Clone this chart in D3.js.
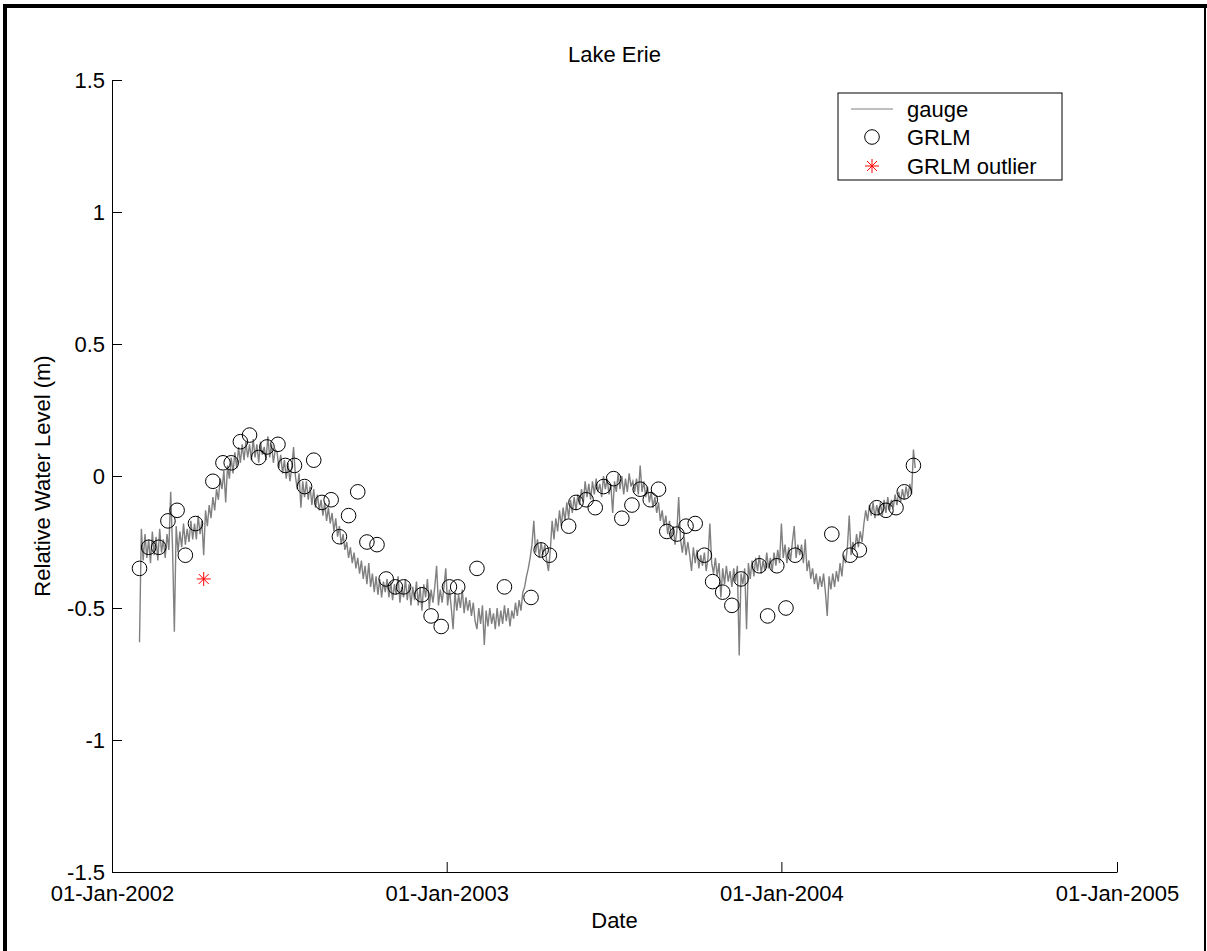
<!DOCTYPE html>
<html lang="en">
<head>
    <meta charset="UTF-8">
    <title>Lake Erie</title>
    <style>
        body { margin: 0; background: #fff; }
        svg { display: block; }
        text { font-family: "Liberation Sans", Arial, sans-serif; fill: #000; }
    </style>
</head>
<body>
    <div id="chart"></div>
    <script src="https://d3js.org/d3.v7.min.js"></script>
    <script>
        // gauge record: one reading every 2 days from gaugeStart
        const gaugeStart = "2002-01-31";
        const gaugeStepDays = 2;
        const gaugeLevels = [
            -0.63, -0.20, -0.32, -0.22, -0.31, -0.24, -0.33, -0.21, -0.30, -0.23, -0.32, -0.20, -0.29, -0.24, -0.31,
            -0.22, -0.28, -0.06, -0.27, -0.59, -0.19, -0.29, -0.21, -0.27, -0.18, -0.26, -0.20, -0.25, -0.17, -0.24,
            -0.18, -0.24, -0.15, -0.22, -0.17, -0.30, -0.13, -0.19, -0.11, -0.16, -0.08, -0.13, -0.05, -0.09, -0.01,
            -0.05,  0.02, -0.10,  0.04, -0.01,  0.07,  0.01,  0.09,  0.03,  0.11,  0.05,  0.12,  0.06,  0.13,  0.07,
             0.12,  0.06,  0.14,  0.07,  0.12,  0.05,  0.13,  0.08,  0.11,  0.06,  0.15,  0.07,  0.12,  0.05,  0.10,
             0.09,  0.03,  0.08,  0.01,  0.06, -0.01,  0.05, -0.02,  0.03,  0.11,  0.00, -0.05,  0.01, -0.12, -0.02,
            -0.08, -0.02, -0.09, -0.04, -0.11, -0.05, -0.12, -0.07, -0.13, -0.09, -0.15, -0.10, -0.17, -0.12, -0.18,
            -0.14, -0.21, -0.16, -0.23, -0.19, -0.26, -0.22, -0.28, -0.25, -0.31, -0.27, -0.33, -0.29, -0.35, -0.31,
            -0.37, -0.32, -0.39, -0.34, -0.41, -0.33, -0.42, -0.37, -0.44, -0.38, -0.45, -0.39, -0.46, -0.40, -0.44,
            -0.39, -0.46, -0.40, -0.47, -0.41, -0.45, -0.38, -0.48, -0.42, -0.46, -0.39, -0.47, -0.41, -0.49, -0.42,
            -0.47, -0.40, -0.49, -0.42, -0.51, -0.41, -0.46, -0.39, -0.50, -0.43, -0.48, -0.42, -0.34, -0.49, -0.43,
            -0.48, -0.42, -0.35, -0.49, -0.43, -0.50, -0.58, -0.44, -0.51, -0.45, -0.50, -0.43, -0.52, -0.46, -0.51,
            -0.47, -0.53, -0.48, -0.55, -0.58, -0.50, -0.56, -0.49, -0.64, -0.51, -0.57, -0.50, -0.56, -0.52, -0.58,
            -0.50, -0.57, -0.51, -0.56, -0.49, -0.55, -0.50, -0.57, -0.51, -0.54, -0.48, -0.53, -0.47, -0.51, -0.44,
            -0.42, -0.38, -0.35, -0.31, -0.26, -0.17, -0.29, -0.24, -0.31, -0.25, -0.30, -0.26, -0.32, -0.36, -0.28,
            -0.17, -0.24, -0.16, -0.21, -0.13, -0.19, -0.12, -0.17, -0.10, -0.16, -0.09, -0.14, -0.08, -0.13, -0.07,
            -0.11, -0.05, -0.10, -0.02, -0.08, -0.03, -0.09, -0.02, -0.07, -0.01, -0.06, -0.03, -0.08,  0.00, -0.05,
            -0.01, -0.07, -0.03, -0.14, -0.02, -0.06,  0.01, -0.05,  0.00, -0.07, -0.01, -0.06,  0.01, -0.04, -0.02,
            -0.06, -0.01, -0.07,  0.04, -0.06, -0.02, -0.08, -0.04, -0.10, -0.06, -0.12, -0.08, -0.14, -0.10, -0.17,
            -0.13, -0.19, -0.15, -0.22, -0.17, -0.24, -0.19, -0.26, -0.21, -0.08, -0.24, -0.29, -0.23, -0.30, -0.25,
            -0.30, -0.36, -0.27, -0.33, -0.28, -0.35, -0.30, -0.34, -0.29, -0.36, -0.31, -0.18, -0.33, -0.37, -0.31,
            -0.38, -0.33, -0.46, -0.35, -0.41, -0.34, -0.40, -0.36, -0.42, -0.35, -0.40, -0.34, -0.68, -0.37, -0.41,
            -0.35, -0.58, -0.33, -0.39, -0.32, -0.38, -0.31, -0.36, -0.30, -0.37, -0.32, -0.36, -0.29, -0.35, -0.31,
            -0.36, -0.29, -0.34, -0.28, -0.33, -0.18, -0.31, -0.26, -0.33, -0.27, -0.32, -0.25, -0.19, -0.31, -0.26,
            -0.30, -0.26, -0.33, -0.24, -0.36, -0.32, -0.39, -0.35, -0.41, -0.37, -0.43, -0.38, -0.42, -0.37, -0.44,
            -0.53, -0.38, -0.43, -0.37, -0.42, -0.36, -0.40, -0.33, -0.38, -0.30, -0.33, -0.27, -0.15, -0.30, -0.25,
            -0.28, -0.22, -0.27, -0.21, -0.25, -0.18, -0.13, -0.17, -0.11, -0.15, -0.10, -0.16, -0.11, -0.15, -0.10,
            -0.15, -0.09, -0.14, -0.08, -0.13, -0.09, -0.12, -0.07, -0.11, -0.06, -0.10, -0.05, -0.09, -0.04, -0.08,
            -0.03, -0.07,  0.10,  0.03
        ];

        const grlmDates = [
            "2002-01-31", "2002-02-10", "2002-02-21", "2002-03-03", "2002-03-13", "2002-03-22",
            "2002-04-02", "2002-04-21", "2002-05-02", "2002-05-11", "2002-05-21", "2002-05-31",
            "2002-06-10", "2002-06-19", "2002-07-01", "2002-07-09", "2002-07-19", "2002-07-30",
            "2002-08-09", "2002-08-18", "2002-08-28", "2002-09-06", "2002-09-16", "2002-09-26",
            "2002-10-06", "2002-10-17", "2002-10-27", "2002-11-06", "2002-11-15", "2002-12-05",
            "2002-12-15", "2002-12-26", "2003-01-04", "2003-01-13", "2003-02-03", "2003-03-05",
            "2003-04-03", "2003-04-14", "2003-04-23", "2003-05-14", "2003-05-22", "2003-06-02",
            "2003-06-12", "2003-06-21", "2003-07-02", "2003-07-11", "2003-07-22", "2003-07-31",
            "2003-08-11", "2003-08-20", "2003-08-29", "2003-09-09", "2003-09-19", "2003-09-29",
            "2003-10-09", "2003-10-18", "2003-10-29", "2003-11-08", "2003-11-18", "2003-12-08",
            "2003-12-17", "2003-12-27", "2004-01-06", "2004-01-16", "2004-02-25", "2004-03-16",
            "2004-03-26", "2004-04-14", "2004-04-24", "2004-05-05", "2004-05-14", "2004-05-24"
        ];
        const grlmLevels = [
            -0.35, -0.27, -0.27, -0.17, -0.13, -0.30,
            -0.18, -0.02,  0.05,  0.05,  0.13,  0.155,
             0.07,  0.11,  0.12,  0.04,  0.04, -0.04,
             0.06, -0.10, -0.09, -0.23, -0.15, -0.06,
            -0.25, -0.26, -0.39, -0.42, -0.42, -0.45,
            -0.53, -0.57, -0.42, -0.42, -0.35, -0.42,
            -0.46, -0.28, -0.30, -0.19, -0.10, -0.09,
            -0.12, -0.04, -0.01, -0.16, -0.11, -0.05,
            -0.09, -0.05, -0.21, -0.22, -0.19, -0.18,
            -0.30, -0.40, -0.44, -0.49, -0.39, -0.34,
            -0.53, -0.34, -0.50, -0.30, -0.22, -0.30,
            -0.28, -0.12, -0.13, -0.12, -0.06,  0.04
        ];

        const outlierDates = ["2002-04-11"];
        const outlierLevels = [-0.39];

        const yTicks = [-1.5, -1, -0.5, 0, 0.5, 1, 1.5];
        const xTickDates = ["2002-01-01", "2003-01-01", "2004-01-01", "2005-01-01"];
        const legendLabels = ["gauge", "GRLM", "GRLM outlier"];

        const W = 1207, H = 951;
        const mLeft = 112, mRight = 1117, mTop = 80, mBottom = 872;
        const fontSize = 22;

        const parse = d3.utcParse("%Y-%m-%d");
        const fmt = d3.utcFormat("%d-%b-%Y");
        const start = parse(gaugeStart);
        const gauge = gaugeLevels.map((v, i) => ({ date: d3.utcDay.offset(start, i * gaugeStepDays), v }));
        const grlm = grlmDates.map((d, i) => ({ date: parse(d), v: grlmLevels[i] }));
        const outliers = outlierDates.map((d, i) => ({ date: parse(d), v: outlierLevels[i] }));

        const x = d3.scaleUtc().domain([parse(xTickDates[0]), parse(xTickDates[xTickDates.length - 1])]).range([mLeft, mRight]);
        const y = d3.scaleLinear().domain([-1.5, 1.5]).range([mBottom, mTop]);

        const svg = d3.select("#chart").append("svg").attr("width", W).attr("height", H);
        svg.append("rect").attr("width", W).attr("height", H).attr("fill", "#fff");

        // figure frame (bottom edge cut off in the original)
        svg.append("path").attr("d", `M5,${H} V6 H${W}`).attr("fill", "none").attr("stroke", "#000").attr("stroke-width", 4);
        svg.append("line").attr("x1", 1205).attr("x2", 1205).attr("y1", 6).attr("y2", H).attr("stroke", "#000").attr("stroke-width", 2);

        const xAxis = d3.axisBottom(x).tickValues(xTickDates.map(parse)).tickFormat(fmt)
            .tickSize(-10).tickSizeOuter(0).tickPadding(13);
        const yAxis = d3.axisLeft(y).tickValues(yTicks).tickFormat(d => d < 0 ? "-" + Math.abs(d) : String(d))
            .tickSize(-10).tickSizeOuter(0).tickPadding(7);

        const gx = svg.append("g").attr("transform", `translate(0,${mBottom})`).call(xAxis);
        const gy = svg.append("g").attr("transform", `translate(${mLeft},0)`).call(yAxis);
        [gx, gy].forEach(g => {
            g.selectAll("text").style("font-size", fontSize + "px").attr("fill", "#000")
                .style("font-family", '"Liberation Sans", Arial, sans-serif');
            g.selectAll("path, line").attr("stroke", "#000");
        });

        const line = d3.line().x(d => x(d.date)).y(d => y(d.v));
        svg.append("path").datum(gauge).attr("d", line)
            .attr("fill", "none").attr("stroke", "#808080").attr("stroke-width", 1.4);

        svg.append("g").selectAll("circle").data(grlm).join("circle")
            .attr("cx", d => x(d.date)).attr("cy", d => y(d.v)).attr("r", 7.3)
            .attr("fill", "none").attr("stroke", "#000").attr("stroke-width", 1);

        // matlab-style '*' marker
        const drawStar = g => {
            g.append("line").attr("x1", -7).attr("x2", 7).attr("stroke", "red");
            g.append("line").attr("y1", -7).attr("y2", 7).attr("stroke", "red");
            g.append("line").attr("x1", -5).attr("y1", -5).attr("x2", 5).attr("y2", 5).attr("stroke", "red");
            g.append("line").attr("x1", -5).attr("y1", 5).attr("x2", 5).attr("y2", -5).attr("stroke", "red");
        };
        svg.append("g").selectAll("g").data(outliers).join("g")
            .attr("transform", d => `translate(${x(d.date)},${y(d.v)})`)
            .each(function() { drawStar(d3.select(this)); });

        svg.append("text").attr("x", (mLeft + mRight) / 2).attr("y", 62).attr("text-anchor", "middle")
            .style("font-size", fontSize + "px").text("Lake Erie");
        svg.append("text").attr("x", (mLeft + mRight) / 2).attr("y", 928).attr("text-anchor", "middle")
            .style("font-size", fontSize + "px").text("Date");
        svg.append("text").attr("transform", `translate(50,${(mTop + mBottom) / 2}) rotate(-90)`).attr("text-anchor", "middle")
            .style("font-size", fontSize + "px").text("Relative Water Level (m)");

        // legend
        const lg = svg.append("g").attr("transform", "translate(838,93)");
        lg.append("rect").attr("width", 224).attr("height", 87).attr("fill", "#fff").attr("stroke", "#000").attr("stroke-width", 1);
        const rows = [16, 44, 73];
        lg.append("line").attr("x1", 13).attr("x2", 55).attr("y1", rows[0]).attr("y2", rows[0]).attr("stroke", "#808080").attr("stroke-width", 1.2);
        lg.append("circle").attr("cx", 34).attr("cy", rows[1]).attr("r", 7.3).attr("fill", "none").attr("stroke", "#000");
        drawStar(lg.append("g").attr("transform", `translate(34,${rows[2]})`));
        lg.selectAll("text.lab").data(legendLabels).join("text").attr("class", "lab")
            .attr("x", 69).attr("y", (d, i) => rows[i]).attr("dy", "0.35em")
            .style("font-size", fontSize + "px").text(d => d);
    </script>
</body>
</html>
